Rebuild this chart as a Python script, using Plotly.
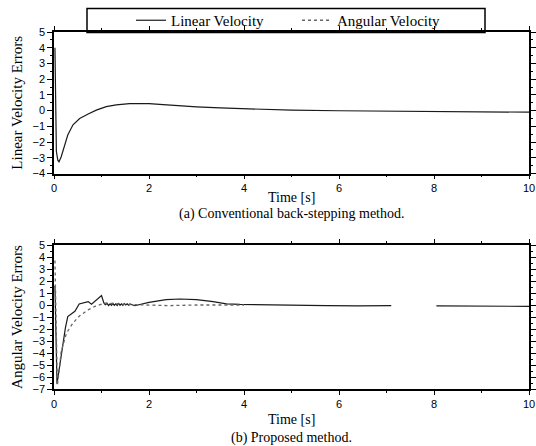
import plotly.graph_objects as go

# ---------------- data ----------------
# (a) conventional back-stepping method
t_a_lin = [0.02, 0.05, 0.08, 0.105, 0.15, 0.22, 0.29, 0.40, 0.54, 0.72, 0.89, 1.10, 1.31,
           1.59, 1.80, 2.00, 2.30, 2.65, 3.00, 3.50, 4.00, 5.00, 6.00, 7.00, 8.00, 9.00, 10.0]
v_a_lin = [4.0, -2.6, -3.15, -3.25, -2.95, -2.2, -1.55, -0.9, -0.5, -0.22, 0.03, 0.25, 0.36,
           0.44, 0.46, 0.45, 0.38, 0.3, 0.24, 0.17, 0.12, 0.03, -0.01, -0.04, -0.06, -0.08, -0.1]

# (b) proposed method
t_b_lin = [0.02, 0.063, 0.10, 0.15, 0.19, 0.24, 0.29, 0.36, 0.44, 0.53, 0.61, 0.72, 0.79,
           0.93, 1.00, 1.05, 1.08, 1.12, 1.15, 1.18, 1.21, 1.24, 1.27, 1.30, 1.33, 1.36,
           1.39, 1.42, 1.45, 1.48, 1.51, 1.54, 1.57, 1.60, 1.65, 1.70, 2.00, 2.36, 2.65,
           3.00, 3.35, 3.63, 3.91, 4.47, 5.20, 5.73, 6.40, 7.00, 7.10, None, 8.05, 8.60,
           9.20, 10.0]
v_b_lin = [1.6, -6.57, -5.6, -4.2, -3.2, -1.9, -0.96, -0.73, -0.53, 0.08, 0.17, 0.28, 0.06,
           0.59, 0.79, 0.17, 0.03, 0.12, -0.04, 0.1, -0.03, 0.12, -0.02, 0.1, -0.04, 0.13,
           -0.02, 0.1, -0.03, 0.12, 0.0, 0.1, -0.02, 0.08, -0.02, -0.06, 0.22, 0.45, 0.5,
           0.45, 0.28, 0.1, 0.05, 0.0, -0.04, -0.06, -0.07, -0.06, -0.06, None, -0.08, -0.1,
           -0.1, -0.11]

t_b_ang = [0.02, 0.04, 0.07, 0.10, 0.15, 0.26, 0.40, 0.54, 0.72, 0.89, 1.10, 1.50, 2.00,
           2.40, 3.00, 3.50, 4.00]
v_b_ang = [3.7, 0.0, -6.7, -5.8, -3.9, -2.36, -1.5, -0.9, -0.4, -0.06, 0.17, 0.05, 0.0,
           -0.05, 0.0, 0.03, 0.0]

y_title_a = "Linear Velocity Errors"
y_title_b = "Angular Velocity Errors"
x_title = "Time [s]"
caption_a = "(a) Conventional back-stepping method."
caption_b = "(b) Proposed method."

# ---------------- layout helpers ----------------
W, H = 536, 446
ML, MR, MT, MB = 54, 7, 32, 57
PW, PH = W - ML - MR, H - MT - MB


def px_x(px):
    return (px - ML) / PW


def px_y(py):
    return (H - MB - py) / PH


SERIF = "Liberation Serif, Times New Roman, serif"
SANS = "Liberation Sans, Arial, sans-serif"

fig = go.Figure()

fig.add_trace(go.Scatter(x=t_a_lin, y=v_a_lin, mode="lines", name="Linear Velocity",
                         legendgroup="lin", showlegend=False,
                         line=dict(color="#1a1a1a", width=1.2), xaxis="x", yaxis="y"))
fig.add_trace(go.Scatter(x=t_b_lin, y=v_b_lin, mode="lines", name="Linear Velocity",
                         legendgroup="lin", showlegend=True, connectgaps=False,
                         line=dict(color="#1a1a1a", width=1.2), xaxis="x2", yaxis="y2"))
fig.add_trace(go.Scatter(x=t_b_ang, y=v_b_ang, mode="lines", name="Angular Velocity",
                         legendgroup="ang", showlegend=True,
                         line=dict(color="#666666", width=1.3, dash="dot"),
                         xaxis="x2", yaxis="y2"))

axis_common = dict(showline=True, linecolor="black", linewidth=1.5, mirror="ticks",
                   showgrid=False, zeroline=False, ticks="outside", tickcolor="black",
                   tickwidth=1.2, automargin=False, ticklabeloverflow="allow",
                   tickfont=dict(family=SANS, size=11, color="black"))

top_dom = [px_y(173.5), 1.0]
bot_dom = [0.0, px_y(245)]

fig.update_layout(
    width=W, height=H,
    margin=dict(l=ML, r=MR, t=MT, b=MB, autoexpand=False),
    paper_bgcolor="white", plot_bgcolor="white",
    xaxis=dict(domain=[0, 1], anchor="y", range=[0, 10], dtick=2, ticklen=4,
               minor=dict(dtick=1, ticks="outside", ticklen=2, tickcolor="black"),
               **axis_common),
    yaxis=dict(domain=top_dom, anchor="x", range=[-4, 5], dtick=1, ticklen=5,
               minor=dict(dtick=0.5, ticks="outside", ticklen=2, tickcolor="black"),
               title=dict(text=y_title_a, font=dict(family=SERIF, size=15, color="black"),
                          standoff=6),
               **axis_common),
    xaxis2=dict(domain=[0, 1], anchor="y2", range=[0, 10], dtick=2, ticklen=4,
                minor=dict(dtick=1, ticks="outside", ticklen=2, tickcolor="black"),
                **axis_common),
    yaxis2=dict(domain=bot_dom, anchor="x2", range=[-7, 5], dtick=1, ticklen=5,
                minor=dict(dtick=0.5, ticks="outside", ticklen=2, tickcolor="black"),
                title=dict(text=y_title_b, font=dict(family=SERIF, size=15, color="black"),
                           standoff=6),
                **axis_common),
    legend=dict(orientation="h", x=px_x(131), xanchor="left", y=px_y(20.5), yanchor="middle",
                bgcolor="rgba(0,0,0,0)", borderwidth=0,
                font=dict(family=SERIF, size=15, color="black"),
                entrywidth=121, entrywidthmode="pixels"),
    showlegend=True,
)

# legend frame
fig.add_shape(type="rect", xref="paper", yref="paper",
              x0=px_x(87), x1=px_x(485), y0=px_y(32.4), y1=px_y(8.5),
              line=dict(color="black", width=1.5), fillcolor="rgba(0,0,0,0)", layer="above")

# x titles and captions
for text, py in [(x_title, 197), (caption_a, 214), (x_title, 419.5), (caption_b, 437.5)]:
    fig.add_annotation(text=text, xref="paper", yref="paper", x=0.5, y=px_y(py),
                       xanchor="center", yanchor="middle", showarrow=False,
                       font=dict(family=SERIF, size=14, color="black"))

fig.write_html("out.html", config={"displayModeBar": False},
               post_script="document.body.style.margin='0';document.body.style.overflow='hidden';")
